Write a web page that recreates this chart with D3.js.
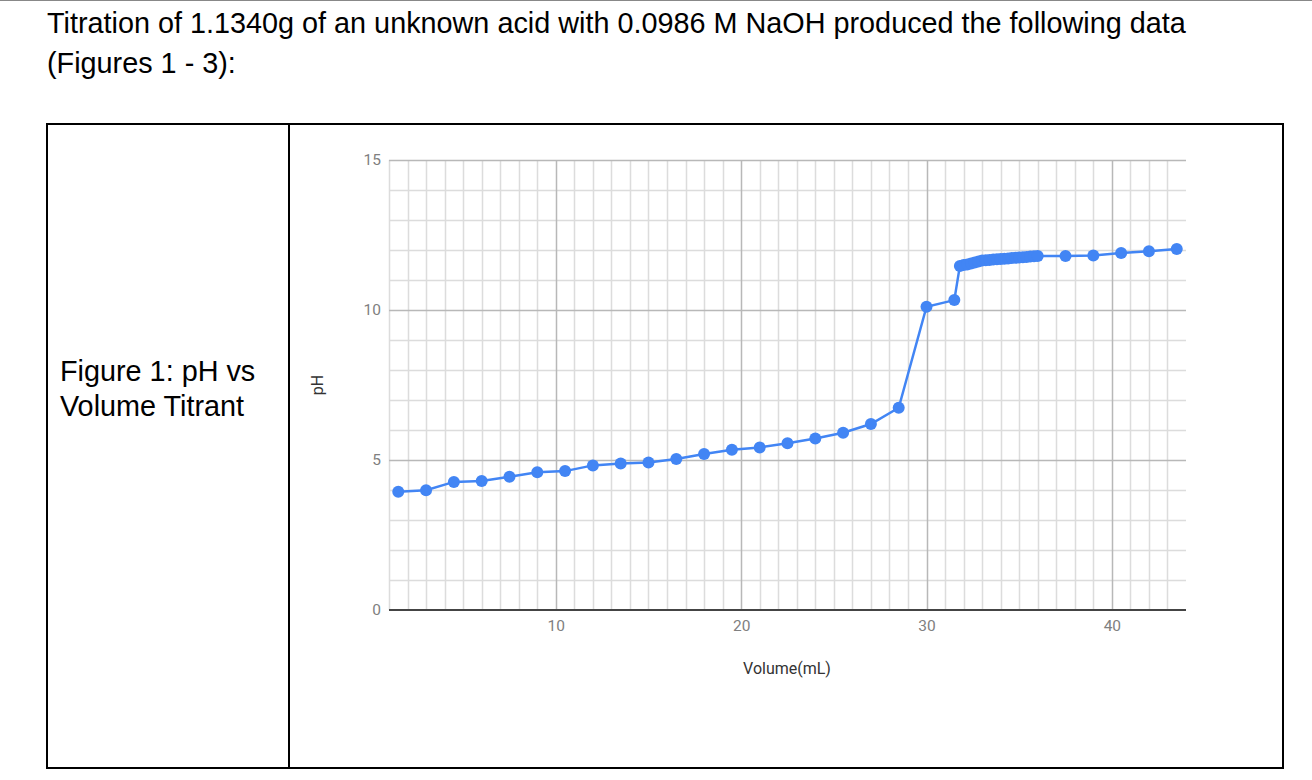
<!DOCTYPE html>
<html>
<head>
<meta charset="utf-8">
<script src="https://cdn.jsdelivr.net/npm/d3@7"></script>
<style>
  html, body { margin: 0; padding: 0; background: #fff; }
  svg { display: block; }
</style>
</head>
<body>
<svg id="chart" width="1312" height="780"></svg>
<script>
// ---- data ----
const volumes = [1.5, 3, 4.5, 6, 7.5, 9, 10.5, 12, 13.5, 15, 16.5, 18, 19.5, 21, 22.5, 24, 25.5, 27, 28.5, 30, 31.5,
  31.8, 32.0, 32.2, 32.4, 32.6, 32.8, 33.0, 33.2, 33.4, 33.6, 33.8, 34.0, 34.2, 34.4, 34.6, 34.8, 35.0, 35.2, 35.4, 35.6, 35.8, 36.0,
  37.5, 39, 40.5, 42, 43.5];
const phValues = [3.94, 3.99, 4.27, 4.30, 4.44, 4.59, 4.63, 4.82, 4.88, 4.92, 5.03, 5.20, 5.34, 5.42, 5.56, 5.72, 5.91, 6.20, 6.74, 10.11, 10.33,
  11.47, 11.50, 11.52, 11.55, 11.58, 11.62, 11.65, 11.66, 11.67, 11.68, 11.69, 11.70, 11.71, 11.72, 11.73, 11.74, 11.75, 11.76, 11.77, 11.78, 11.79, 11.80,
  11.80, 11.82, 11.90, 11.96, 12.03];
const xTickLabels = [10, 20, 30, 40];
const yTickLabels = [0, 5, 10, 15];
const xDomain = [1, 44];
const yDomain = [0, 15];
const titleLines = ["Titration of 1.1340g of an unknown acid with 0.0986 M NaOH produced the following data", "(Figures 1 - 3):"];
const captionLines = ["Figure 1: pH vs", "Volume Titrant"];

// ---- drawing ----
const svg = d3.select("#chart");

// top page rule
svg.append("line").attr("x1", 0).attr("x2", 1312).attr("y1", 0.5).attr("y2", 0.5)
  .attr("stroke", "#888").attr("stroke-width", 1);

// heading text
svg.append("text")
  .attr("font-family", "Liberation Sans, Arial, sans-serif").attr("font-size", 28.8).attr("fill", "#000")
  .selectAll("tspan").data(titleLines).join("tspan")
  .attr("x", 47).attr("y", (d, i) => 33 + i * 40).text(d => d);

// table
const tb = { left: 47, top: 124, right: 1283, bottom: 768, div: 289 };
svg.append("rect").attr("x", tb.left).attr("y", tb.top)
  .attr("width", tb.right - tb.left).attr("height", tb.bottom - tb.top)
  .attr("fill", "none").attr("stroke", "#000").attr("stroke-width", 2);
svg.append("line").attr("x1", tb.div).attr("x2", tb.div).attr("y1", tb.top).attr("y2", tb.bottom)
  .attr("stroke", "#000").attr("stroke-width", 2);

svg.append("text")
  .attr("font-family", "Liberation Sans, Arial, sans-serif").attr("font-size", 28.8).attr("fill", "#000")
  .selectAll("tspan").data(captionLines).join("tspan")
  .attr("x", 60).attr("y", (d, i) => 381 + i * 35).text(d => d);

// chart
const plot = { left: 389, right: 1186, top: 160, bottom: 610 };
const x = d3.scaleLinear().domain(xDomain).range([plot.left, plot.right]);
const y = d3.scaleLinear().domain(yDomain).range([plot.bottom, plot.top]);

const g = svg.append("g");

// minor gridlines
const xMinor = d3.range(xDomain[0], xDomain[1]).filter(v => v % 10 !== 0);
const yMinor = d3.range(yDomain[0] + 1, yDomain[1]).filter(v => v % 5 !== 0);
g.append("g").selectAll("line").data(xMinor).join("line")
  .attr("x1", d => Math.round(x(d)) + 0.5).attr("x2", d => Math.round(x(d)) + 0.5)
  .attr("y1", plot.top).attr("y2", plot.bottom)
  .attr("stroke", "#dcdcdc").attr("stroke-width", 1.5);
g.append("g").selectAll("line").data(yMinor).join("line")
  .attr("y1", d => Math.round(y(d)) + 0.5).attr("y2", d => Math.round(y(d)) + 0.5)
  .attr("x1", plot.left).attr("x2", plot.right)
  .attr("stroke", "#dcdcdc").attr("stroke-width", 1.5);

// major gridlines
g.append("g").selectAll("line").data(xTickLabels).join("line")
  .attr("x1", d => Math.round(x(d)) + 0.5).attr("x2", d => Math.round(x(d)) + 0.5)
  .attr("y1", plot.top).attr("y2", plot.bottom)
  .attr("stroke", "#b8b8b8").attr("stroke-width", 1.5);
g.append("g").selectAll("line").data(yTickLabels.filter(v => v !== 0)).join("line")
  .attr("y1", d => Math.round(y(d)) + 0.5).attr("y2", d => Math.round(y(d)) + 0.5)
  .attr("x1", plot.left).attr("x2", plot.right)
  .attr("stroke", "#b8b8b8").attr("stroke-width", 1.5);

// baseline
g.append("line").attr("x1", plot.left).attr("x2", plot.right)
  .attr("y1", y(0)).attr("y2", y(0)).attr("stroke", "#444").attr("stroke-width", 2);

// axes via d3 axis generators (labels only)
const yAxis = g.append("g").attr("transform", `translate(${plot.left - 8},0)`)
  .call(d3.axisLeft(y).tickValues(yTickLabels).tickSize(0).tickPadding(0));
const xAxis = g.append("g").attr("transform", `translate(0,${plot.bottom + 10})`)
  .call(d3.axisBottom(x).tickValues(xTickLabels).tickSize(0).tickPadding(0));
[yAxis, xAxis].forEach(a => {
  a.select(".domain").remove();
  a.selectAll("text").attr("fill", "#808080").attr("font-size", 15.5)
    .attr("font-family", "Roboto, Arial, sans-serif");
});

// axis titles
g.append("text").attr("x", 787).attr("y", 674).attr("text-anchor", "middle")
  .attr("font-family", "Roboto, Arial, sans-serif").attr("font-size", 16).attr("fill", "#333")
  .text("Volume(mL)");
g.append("text").attr("transform", "translate(323,385) rotate(-90)").attr("text-anchor", "middle")
  .attr("font-family", "Roboto, Arial, sans-serif").attr("font-size", 16).attr("fill", "#333")
  .text("pH");

// series
const data = volumes.map((v, i) => ({ v, p: phValues[i] }));
g.append("path").datum(data)
  .attr("fill", "none").attr("stroke", "#4285f4").attr("stroke-width", 2.5)
  .attr("d", d3.line().x(d => x(d.v)).y(d => y(d.p)));
g.append("g").selectAll("circle").data(data).join("circle")
  .attr("cx", d => x(d.v)).attr("cy", d => y(d.p)).attr("r", 6)
  .attr("fill", "#4285f4");
</script>
</body>
</html>
